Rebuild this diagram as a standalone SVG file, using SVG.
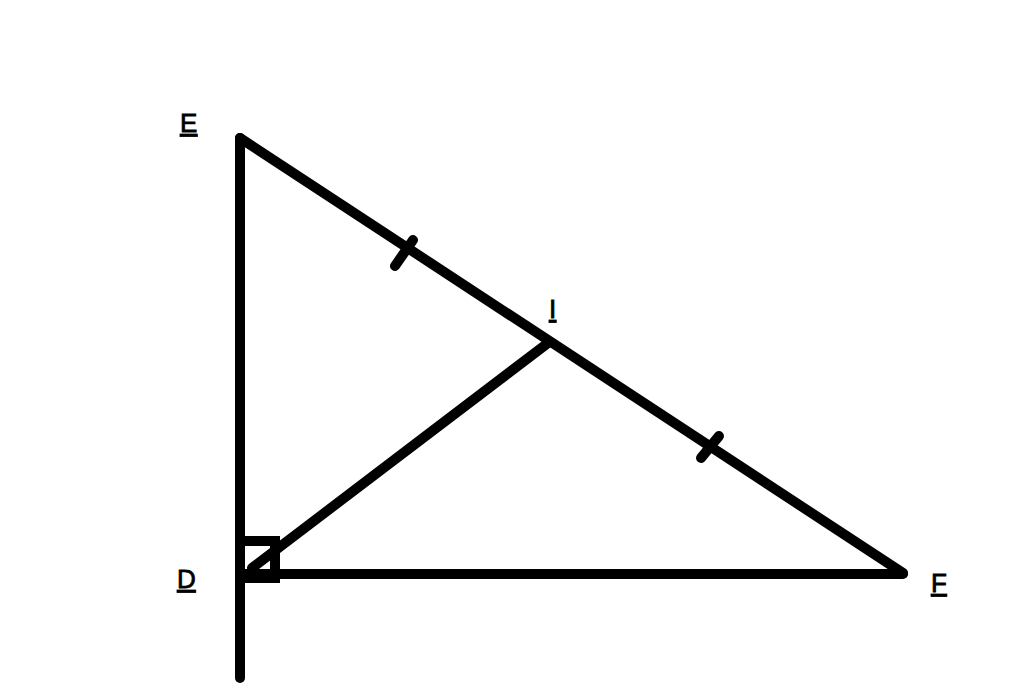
<svg xmlns="http://www.w3.org/2000/svg" width="1024" height="683" viewBox="0 0 1024 683">
<style>
.ln{stroke:#000;stroke-width:10;stroke-linecap:round;stroke-linejoin:round;fill:none}
.lb{font-family:"Liberation Sans",Arial,sans-serif;font-size:26px;fill:#000;stroke:#000;stroke-width:0.8;text-decoration:underline}
</style>
<rect width="1024" height="683" fill="#fff"/>
<g id="connectors">
<line class="ln" x1="240" y1="138" x2="240" y2="678"/>
<line class="ln" x1="240" y1="138" x2="903" y2="573"/>
<line class="ln" x1="240" y1="574" x2="903" y2="574"/>
<line class="ln" x1="252" y1="568" x2="548" y2="343"/>
<polyline class="ln" points="244,541 275,541 275,578 244,578" style="stroke-linecap:butt;stroke-linejoin:miter"/>
<line class="ln" x1="395" y1="266" x2="413" y2="240"/>
<line class="ln" x1="701" y1="458" x2="719" y2="436"/>
</g>
<g id="E"><text class="lb" x="180" y="132">E</text></g>
<g id="I"><text class="lb" x="549" y="318">I</text></g>
<g id="D"><text class="lb" x="177" y="588">D</text></g>
<g id="F"><text class="lb" x="931" y="592">F</text></g>
</svg>
